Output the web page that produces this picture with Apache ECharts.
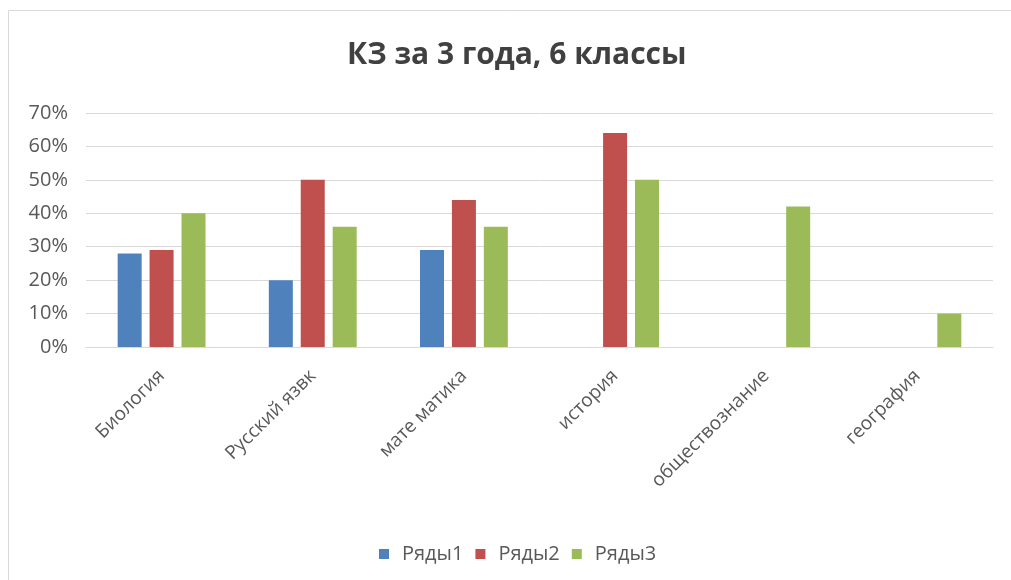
<!DOCTYPE html>
<html>
<head>
<meta charset="utf-8">
<script src="https://cdn.jsdelivr.net/npm/echarts@6/dist/echarts.min.js"></script>
<style>
html,body{margin:0;padding:0;background:#fff;}
#c{width:1011px;height:580px;}
</style>
</head>
<body>
<div id="c"></div>
<script>
const categories = ['Биология', 'Русский язвк', 'мате матика', 'история', 'обществознание', 'география'];
const seriesNames = ['Ряды1', 'Ряды2', 'Ряды3'];
const row1 = [28, 20, 29, null, null, null];
const row2 = [29, 50, 44, 64, null, null];
const row3 = [40, 36, 36, 50, 42, 10];
const colors = ['#4f81bd', '#c0504d', '#9bbb59'];
const yTicks = [0, 10, 20, 30, 40, 50, 60, 70];

const font = '"Open Sans", "Liberation Sans", sans-serif';
const chart = echarts.init(document.getElementById('c'), null, {renderer: 'canvas'});
const data = [row1, row2, row3];
chart.setOption({
  animation: false,
  color: colors,
  graphic: [{
    type: 'rect', left: 8, top: 10, z: -1,
    shape: {width: 1020, height: 580},
    style: {fill: '#fff', stroke: '#d9d9d9', lineWidth: 1}
  }],
  title: {
    text: 'КЗ за 3 года, 6 классы',
    left: 342, top: 35,
    textStyle: {fontFamily: font, fontSize: 30, fontWeight: 'bold', color: '#404040'}
  },
  legend: {
    data: seriesNames,
    top: 539, left: 374,
    itemWidth: 10, itemHeight: 10, itemGap: 12,
    icon: 'rect',
    textStyle: {fontFamily: font, fontSize: 20, color: '#595959', padding: [0, 0, 0, 8]}
  },
  grid: {left: 86, right: 18, top: 113, bottom: 233, containLabel: false},
  xAxis: {
    type: 'category',
    data: categories,
    axisLine: {lineStyle: {color: '#d9d9d9'}},
    axisTick: {show: false},
    axisLabel: {rotate: 45, interval: 0, margin: 26, fontFamily: font, fontSize: 19, color: '#595959'}
  },
  yAxis: {
    type: 'value',
    min: yTicks[0], max: yTicks[yTicks.length - 1], interval: 10,
    axisLine: {show: false},
    axisTick: {show: false},
    splitLine: {lineStyle: {color: '#d9d9d9'}},
    axisLabel: {formatter: '{value}%', margin: 18, fontFamily: font, fontSize: 20, color: '#595959'}
  },
  series: seriesNames.map((n, i) => ({
    name: n, type: 'bar', data: data[i],
    barWidth: 24, barGap: '33%'
  }))
});
</script>
</body>
</html>
